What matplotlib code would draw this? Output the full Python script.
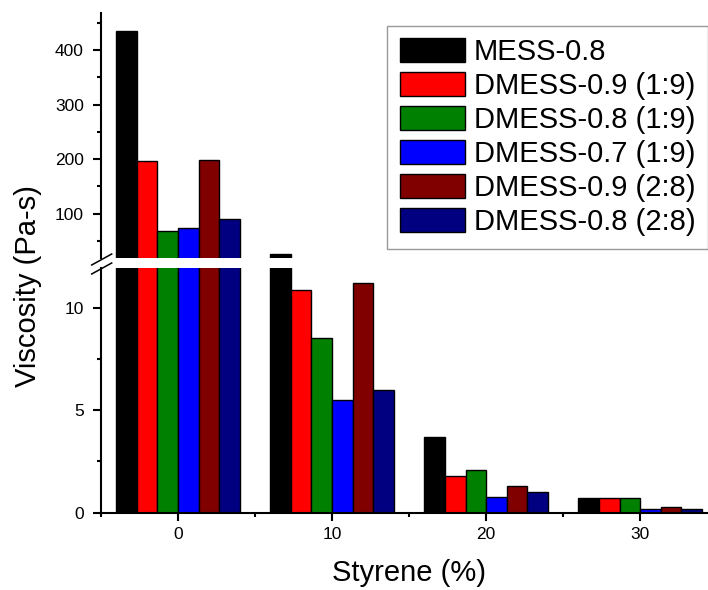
import matplotlib
matplotlib.use("Agg")
import matplotlib.pyplot as plt
import numpy as np
from matplotlib.lines import Line2D
from matplotlib.ticker import MultipleLocator

plt.rcParams['font.family'] = ['Liberation Sans', 'DejaVu Sans']

# Data
styrene = [0, 10, 20, 30]
series_labels = [
    "MESS-0.8",
    "DMESS-0.9 (1:9)",
    "DMESS-0.8 (1:9)",
    "DMESS-0.7 (1:9)",
    "DMESS-0.9 (2:8)",
    "DMESS-0.8 (2:8)",
]
mess_08 = [434, 27, 3.7, 0.7]
dmess_09_19 = [197, 10.85, 1.8, 0.7]
dmess_08_19 = [69, 8.5, 2.1, 0.7]
dmess_07_19 = [74, 5.5, 0.78, 0.2]
dmess_09_28 = [198, 11.2, 1.3, 0.3]
dmess_08_28 = [91, 6.0, 1.0, 0.2]
series_values = [mess_08, dmess_09_19, dmess_08_19, dmess_07_19, dmess_09_28, dmess_08_28]
colors = ["#000000", "#ff0000", "#008000", "#0000ff", "#800000", "#000080"]

W, H = 708, 590
fig = plt.figure(figsize=(W / 100, H / 100), dpi=100)

x0, x1 = 101, 708
low_bottom, low_top = 512.7, 268.3
up_bottom, up_top = 258.3, 13.3

ax_lo = fig.add_axes([x0 / W, (H - low_bottom) / H, (x1 - x0) / W, (low_bottom - low_top) / H])
ax_up = fig.add_axes([x0 / W, (H - up_bottom) / H, (x1 - x0) / W, (up_bottom - up_top) / H])

n = len(series_values)
bw = 8.0 / n
x = np.array(styrene, dtype=float)
handles = []
for i, (vals, c, lab) in enumerate(zip(series_values, colors, series_labels)):
    pos = x + (i - (n - 1) / 2) * bw
    for ax in (ax_lo, ax_up):
        b = ax.bar(pos, vals, width=bw, color=c, edgecolor="black", linewidth=1.0, label=lab)
    handles.append(b)

xlim = (-5, 34.41)
for ax in (ax_lo, ax_up):
    ax.set_xlim(*xlim)
    ax.spines['top'].set_visible(False)
    ax.spines['right'].set_visible(False)
    ax.spines['left'].set_linewidth(1.5)
    ax.spines['bottom'].set_linewidth(1.5)
    ax.tick_params(which='major', direction='out', length=5.8, width=1.5, labelsize=12.5)
    ax.tick_params(which='minor', direction='out', length=3, width=1.5)
    ax.tick_params(axis='y', which='major', pad=6.5)
    ax.tick_params(axis='x', which='major', pad=4.7)

ax_lo.set_ylim(0, 11.92)
ax_lo.yaxis.set_major_locator(MultipleLocator(5))
ax_lo.yaxis.set_minor_locator(MultipleLocator(2.5))
ax_lo.xaxis.set_major_locator(MultipleLocator(10))
ax_lo.xaxis.set_minor_locator(MultipleLocator(5))

ax_up.set_ylim(18.3, 467.3)
ax_up.yaxis.set_major_locator(MultipleLocator(100))
ax_up.yaxis.set_minor_locator(MultipleLocator(50))
ax_up.spines['bottom'].set_visible(False)
ax_up.tick_params(axis='x', which='both', bottom=False, labelbottom=False)

ax_lo.set_xlabel("Styrene (%)", fontsize=21)
ax_lo.xaxis.set_label_coords(0.507, -0.19)
fig.text(28 / W, (H - 286.5) / H, "Viscosity (Pa-s)", rotation=90,
         ha='center', va='center', fontsize=21)

# Axis break marks
for (xa, ya), (xb, yb) in [((91.7, 265.0), (111.7, 254.0)), ((91.7, 274.0), (111.7, 263.0))]:
    fig.add_artist(Line2D([xa / W, xb / W], [(H - ya) / H, (H - yb) / H],
                          transform=fig.transFigure, color='black', linewidth=1.1))

leg = ax_up.legend(handles=handles, labels=series_labels, loc='upper right',
                   bbox_to_anchor=(707.5 / W, (H - 26) / H), bbox_transform=fig.transFigure,
                   fontsize=21, frameon=True, fancybox=False, borderaxespad=0,
                   handlelength=2.24, handleheight=0.9, handletextpad=0.3,
                   labelspacing=0.2, borderpad=0.42)
leg.get_frame().set_edgecolor('#808080')
leg.get_frame().set_linewidth(1.0)

fig.savefig("out.png", dpi=100)
